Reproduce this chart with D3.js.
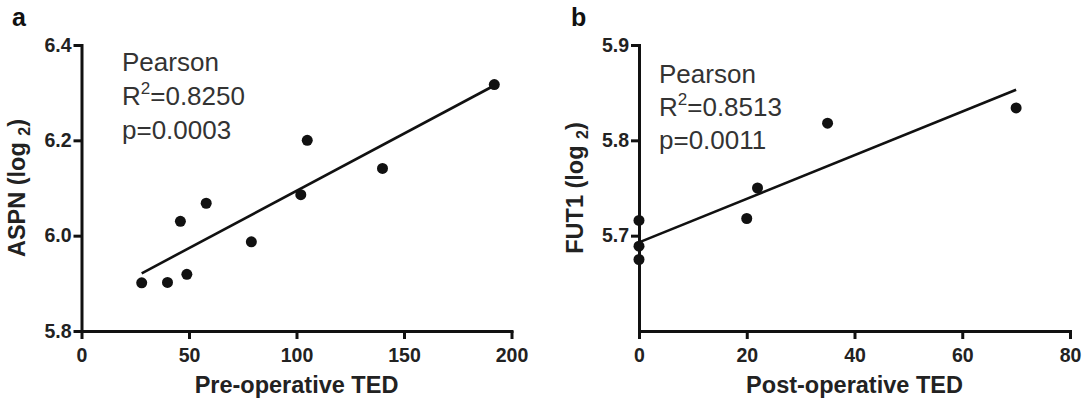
<!DOCTYPE html>
<html><head><meta charset="utf-8">
<script src="https://cdn.jsdelivr.net/npm/d3@7"></script>
<style>
html,body{margin:0;padding:0;background:#fff;}
svg{display:block;font-family:"Liberation Sans",Arial,sans-serif;}
</style></head>
<body><svg id="c" width="1089" height="401"></svg>
<script>
// ---- data ----
const preTED   = [28, 40, 46, 49, 58, 79, 102, 105, 140, 192];
const aspnLog2 = [5.901, 5.902, 6.030, 5.919, 6.068, 5.987, 6.086, 6.200, 6.141, 6.317];
const fitA_x = [28, 192];
const fitA_y = [5.921, 6.315];
const aTicksX = [0, 50, 100, 150, 200];
const aTicksY = [5.8, 6.0, 6.2, 6.4];

const postTED  = [0, 0, 0, 20, 22, 35, 70];
const fut1Log2 = [5.716, 5.689, 5.675, 5.718, 5.750, 5.818, 5.834];
const fitB_x = [0, 70];
const fitB_y = [5.693, 5.853];
const bTicksX = [0, 20, 40, 60, 80];
const bTicksY = [5.7, 5.8, 5.9];

const ink = "#111";
const svg = d3.select("#c");

function panel(o) {
  const g = svg.append("g");
  const x = d3.scaleLinear().domain(o.xDom).range(o.xR);
  const y = d3.scaleLinear().domain(o.yDom).range(o.yR);
  const T = 8, W = 3;
  const x0 = x(o.xDom[0]), x1 = x(o.xDom[1]), y0 = y(o.yDom[0]), y1 = y(o.yDom[1]);

  // axes (d3 axis generators)
  const ax = g.append("g").attr("transform",`translate(0,${y0})`)
    .call(d3.axisBottom(x).tickValues(o.xTicks).tickFormat(d3.format("d")).tickSize(T).tickSizeOuter(0).tickPadding(9));
  const ay = g.append("g").attr("transform",`translate(${x0},0)`)
    .call(d3.axisLeft(y).tickValues(o.yTicks).tickFormat(d3.format(".1f")).tickSize(T).tickSizeOuter(0).tickPadding(2));
  [ax,ay].forEach(a=>{
    a.attr("color", ink);
    a.select(".domain").attr("stroke",ink).attr("stroke-width",W).attr("stroke-linecap","square").attr("fill","none");
    a.selectAll(".tick line").attr("stroke",ink).attr("stroke-width",W);
    a.selectAll(".tick text").attr("fill","#222").attr("font-size",19.5).attr("font-weight","bold")
      .attr("font-family",'"Liberation Sans",Arial,sans-serif');
  });

  // fit line
  g.append("line")
    .attr("x1",x(o.fx[0])).attr("y1",y(o.fy[0]))
    .attr("x2",x(o.fx[1])).attr("y2",y(o.fy[1]))
    .attr("stroke","#111").attr("stroke-width",2.6);

  // points
  g.selectAll("circle.pt").data(o.xs.map((v,i)=>[v,o.ys[i]])).enter()
    .append("circle").attr("class","pt")
    .attr("cx",d=>x(d[0])).attr("cy",d=>y(d[1])).attr("r",5.5).attr("fill","#111");

  // x title
  g.append("text").attr("x",(x0+x1)/2).attr("y",393)
    .attr("text-anchor","middle").attr("font-size",23.5).attr("font-weight","bold").attr("fill","#222")
    .text(o.xTitle);

  // y title
  const yt = g.append("text")
    .attr("transform",`translate(${o.yTitleX},${(y0+y1)/2}) rotate(-90)`)
    .attr("text-anchor","middle").attr("font-size",23.5).attr("font-weight","bold").attr("fill","#222");
  yt.append("tspan").text(o.yTitle + " (log ");
  yt.append("tspan").attr("font-size",16).attr("dy",5).text("2");
  yt.append("tspan").attr("dy",-5).text(")");

  // stats text
  const st = g.append("g").attr("fill","#333").attr("font-size",26);
  st.append("text").attr("x",o.sx).attr("y",o.sy[0]).text("Pearson");
  const r = st.append("text").attr("x",o.sx).attr("y",o.sy[1]);
  r.append("tspan").text("R");
  r.append("tspan").attr("font-size",17).attr("dy",-11).text("2");
  r.append("tspan").attr("dy",11).text("=" + o.r2);
  st.append("text").attr("x",o.sx).attr("y",o.sy[2]).text("p=" + o.p);

  // panel letter
  g.append("text").attr("x",o.lx).attr("y",26).attr("font-size",25).attr("font-weight","bold")
    .attr("fill","#111").text(o.letter);
}

panel({xs:preTED, ys:aspnLog2, fx:fitA_x, fy:fitA_y,
  xDom:[0,200], xR:[81.5,511.5], yDom:[5.8,6.4], yR:[331,45],
  xTicks:aTicksX, yTicks:aTicksY, xTitle:"Pre-operative TED", yTitle:"ASPN", yTitleX:25,
  sx:122, sy:[71,105,139], r2:"0.8250", p:"0.0003", letter:"a", lx:12});

panel({xs:postTED, ys:fut1Log2, fx:fitB_x, fy:fitB_y,
  xDom:[0,80], xR:[639,1070], yDom:[5.6,5.9], yR:[331,45],
  xTicks:bTicksX, yTicks:bTicksY, xTitle:"Post-operative TED", yTitle:"FUT1", yTitleX:583,
  sx:659, sy:[83,116,149], r2:"0.8513", p:"0.0011", letter:"b", lx:571});
</script></body></html>
